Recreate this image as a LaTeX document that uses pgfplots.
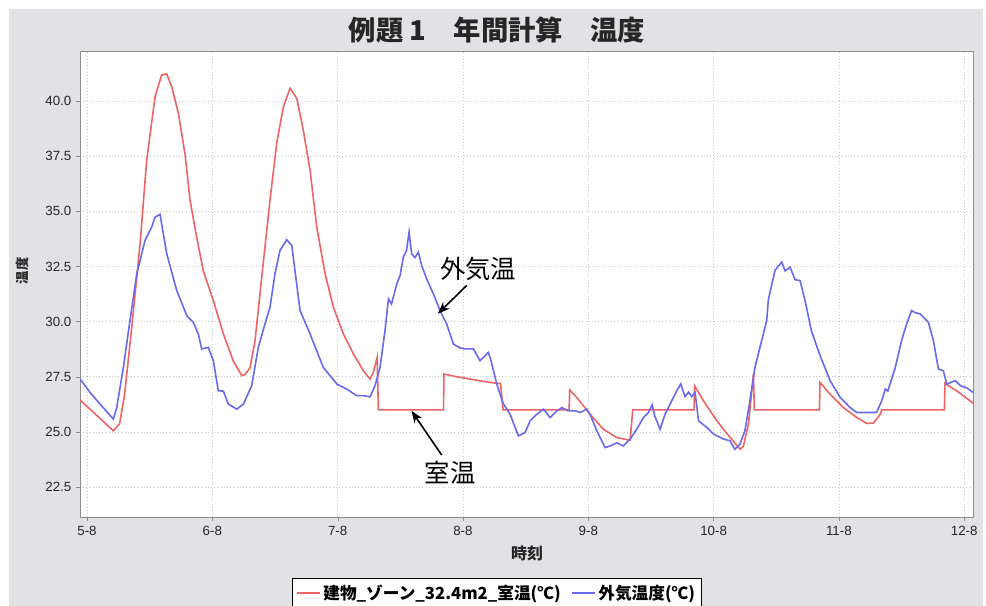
\documentclass[border=0pt]{standalone}
\usepackage{fontspec}
\setmainfont{Liberation Sans}
\newfontfamily\jp{Noto Sans CJK JP}
\usepackage{pgfplots}
\pgfplotsset{compat=1.18}
\usetikzlibrary{arrows.meta}
\definecolor{bg}{RGB}{225,225,230}
\definecolor{rc}{RGB}{238,100,100}
\definecolor{bc}{RGB}{105,105,235}
\definecolor{fr}{RGB}{140,140,140}
\begin{document}
\begin{tikzpicture}
\path[use as bounding box] (0,0) rectangle (739.5pt,454.5pt);
\fill[bg] (6.75pt,0) rectangle (737.25pt,447.75pt);
\begin{axis}[
  at={(60pt,66.75pt)}, anchor=south west,
  scale only axis, width=669.75pt, height=349.5pt,
  xmin=-0.056, xmax=7.07, ymin=21.14, ymax=42.27,
  axis background/.style={fill=white},
  axis line style={draw=fr},
  grid=major, grid style={dotted, black!22},
  xtick={0,1,2,3,4,5,6,7},
  xticklabels={5-8,6-8,7-8,8-8,9-8,10-8,11-8,12-8},
  ytick={22.5,25,27.5,30,32.5,35,37.5,40},
  yticklabel style={/pgf/number format/.cd, fixed, fixed zerofill, precision=1},
  /pgf/number format/assume math mode=true,
  tick label style={font=\fontsize{10}{12}\selectfont, text=black!85},
  tick align=outside, tick pos=left, major tick length=3pt,
  tick style={fr},
  legend style={at={(0.467,-0.131)}, anchor=north, legend columns=2, draw=black,
    font=\jp\bfseries\fontsize{12.5}{14}\selectfont, inner sep=3pt,
    /tikz/every even column/.append style={column sep=6pt}},
  legend cell align=left,
]
\addplot[rc, line width=1.2pt] coordinates {
(-0.056,26.45)(0.21,25.05)(0.26,25.36)(0.30,26.7)(0.357,29.74)(0.423,33.5)(0.476,37.3)(0.543,40.2)(0.596,41.18)(0.636,41.23)(0.676,40.65)(0.729,39.45)(0.782,37.6)(0.822,35.5)(0.875,33.83)(0.928,32.3)(1.008,30.95)(1.088,29.45)(1.168,28.2)(1.235,27.55)(1.26,27.6)(1.30,27.9)(1.34,29.1)(1.394,32.0)(1.46,35.5)(1.514,38.1)(1.567,39.74)(1.62,40.58)(1.674,40.12)(1.726,38.68)(1.78,36.86)(1.833,34.29)(1.9,32.17)(1.966,30.65)(2.046,29.44)(2.126,28.53)(2.205,27.77)(2.259,27.39)(2.285,27.7)(2.315,28.38)(2.325,26.0)(2.845,26.0)(2.848,27.62)(2.95,27.5)(3.05,27.4)(3.15,27.3)(3.27,27.2)(3.3,27.2)(3.32,26.0)(3.847,26.0)(3.852,26.9)(3.908,26.56)(4.014,25.8)(4.12,25.12)(4.227,24.74)(4.334,24.62)(4.355,26.0)(4.844,26.0)(4.848,27.09)(4.919,26.41)(5.026,25.5)(5.132,24.74)(5.212,24.21)(5.238,24.36)(5.278,25.35)(5.318,27.62)(5.325,26.0)(5.845,26.0)(5.849,27.24)(5.93,26.71)(6.036,26.1)(6.143,25.65)(6.223,25.38)(6.276,25.4)(6.33,25.8)(6.342,26.0)(6.842,26.0)(6.846,27.2)(6.94,26.86)(7.047,26.41)(7.07,26.3)
};
\addlegendentry{建物\_ゾーン\_32.4m2\_室温(℃)}
\addplot[bc, line width=1.2pt] coordinates {
(-0.056,27.4)(0.024,26.79)(0.104,26.26)(0.21,25.58)(0.237,26.1)(0.29,27.92)(0.343,30.05)(0.397,32.17)(0.463,33.68)(0.516,34.29)(0.543,34.74)(0.583,34.86)(0.636,33.08)(0.716,31.41)(0.796,30.27)(0.848,29.97)(0.888,29.44)(0.915,28.76)(0.968,28.83)(1.008,28.23)(1.048,26.86)(1.088,26.85)(1.128,26.26)(1.195,26.03)(1.248,26.26)(1.314,27.09)(1.367,28.83)(1.42,29.89)(1.46,30.65)(1.50,32.17)(1.54,33.23)(1.594,33.71)(1.634,33.45)(1.70,30.5)(1.78,29.44)(1.886,27.92)(1.993,27.17)(2.073,26.94)(2.152,26.64)(2.205,26.64)(2.259,26.59)(2.298,27.09)(2.338,27.92)(2.378,29.59)(2.405,31.03)(2.43,30.8)(2.472,31.71)(2.498,32.09)(2.524,32.92)(2.55,33.23)(2.57,34.06)(2.59,33.08)(2.617,32.9)(2.644,33.15)(2.67,32.55)(2.71,31.94)(2.764,31.26)(2.817,30.5)(2.87,29.89)(2.924,28.98)(2.977,28.8)(3.03,28.76)(3.083,28.76)(3.136,28.23)(3.203,28.6)(3.22,28.3)(3.27,27.17)(3.32,26.3)(3.376,25.8)(3.442,24.82)(3.496,24.97)(3.536,25.5)(3.59,25.8)(3.643,26.03)(3.695,25.65)(3.75,25.95)(3.79,26.1)(3.843,25.95)(3.9,25.95)(3.935,25.88)(3.988,26.03)(4.014,25.8)(4.068,25.05)(4.134,24.29)(4.174,24.36)(4.227,24.51)(4.28,24.36)(4.334,24.67)(4.387,25.12)(4.44,25.65)(4.48,25.88)(4.51,26.23)(4.53,25.73)(4.573,25.12)(4.613,25.8)(4.666,26.41)(4.706,26.86)(4.738,27.17)(4.772,26.6)(4.8,26.8)(4.826,26.6)(4.852,26.79)(4.88,25.5)(4.946,25.2)(5.0,24.9)(5.08,24.67)(5.13,24.6)(5.17,24.21)(5.21,24.44)(5.25,25.05)(5.29,26.41)(5.33,27.92)(5.37,28.83)(5.424,30.05)(5.437,31.0)(5.49,32.32)(5.544,32.7)(5.57,32.3)(5.61,32.47)(5.65,31.9)(5.69,31.86)(5.73,30.95)(5.78,29.59)(5.85,28.45)(5.93,27.32)(6.01,26.56)(6.09,26.1)(6.143,25.88)(6.3,25.88)(6.342,26.41)(6.37,26.94)(6.39,26.85)(6.45,27.92)(6.5,29.14)(6.54,29.89)(6.58,30.5)(6.61,30.4)(6.648,30.35)(6.714,29.97)(6.754,29.14)(6.794,27.85)(6.834,27.77)(6.86,27.17)(6.93,27.32)(6.97,27.09)(7.02,27.0)(7.07,26.79)
};
\addlegendentry{外気温度(℃)}
\node[font=\jp\fontsize{19}{22}\selectfont] at (axis cs:3.12,32.4) {外気温};
\draw[-{Stealth[length=9pt,width=7pt]}, line width=1.2pt] (axis cs:3.03,31.64) -- (axis cs:2.80,30.36);
\node[font=\jp\fontsize{19}{22}\selectfont] at (axis cs:2.897,23.15) {室温};
\draw[-{Stealth[length=9pt,width=7pt]}, line width=1.2pt] (axis cs:2.83,23.95) -- (axis cs:2.59,25.95);
\end{axis}
\node[font=\jp\bfseries\fontsize{20.5}{24}\selectfont, text=black!85] at (372.75pt,432pt) {例題 1　年間計算　温度};
\node[font=\jp\bfseries\fontsize{12}{14}\selectfont, text=black!85] at (395.25pt,39.75pt) {時刻};
\node[font=\jp\bfseries\fontsize{10}{12}\selectfont, text=black!85, rotate=90] at (16.5pt,251.25pt) {温度};
\end{tikzpicture}
\end{document}
